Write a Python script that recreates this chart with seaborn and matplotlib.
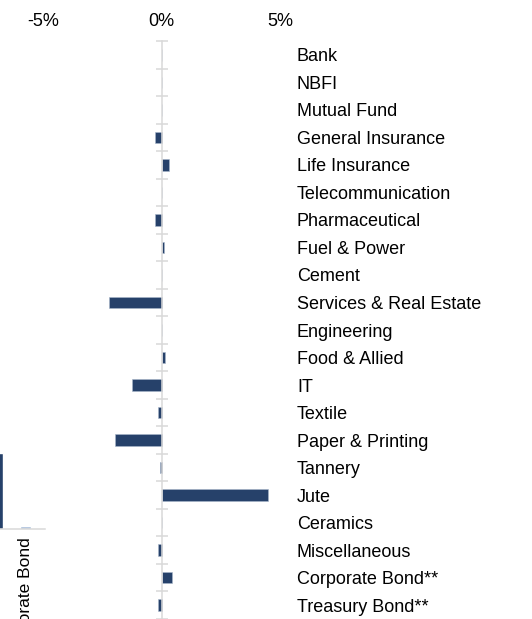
import numpy as np
import pandas as pd
import matplotlib
matplotlib.use("Agg")
import matplotlib.pyplot as plt
import seaborn as sns

# ─── DATA ───────────────────────────────────────────────────────────────────────
SECTORS = ["Bank", "NBFI", "Mutual Fund", "General Insurance", "Life Insurance",
           "Telecommunication", "Pharmaceutical", "Fuel & Power", "Cement",
           "Services & Real Estate", "Engineering", "Food & Allied", "IT",
           "Textile", "Paper & Printing", "Tannery", "Jute", "Ceramics",
           "Miscellaneous", "Corporate Bond**", "Treasury Bond**"]
CHANGE_PCT = [0.0, 0.0, 0.0, -0.30, 0.30,
              0.0, -0.30, 0.08, 0.0,
              -2.20, 0.0, 0.15, -1.25,
              -0.17, -1.95, -0.06, 4.45, 0.02,
              -0.17, 0.42, -0.14]
X_TICKS = [-5, 0, 5]
X_TICK_LABELS = ["-5%", "0%", "5%"]

# fragment of a neighbouring chart cut at the left edge
FRAG_CATS = ["Miscellaneous", "Corporate Bond"]
FRAG_LABELS = ["", "Corporate Bond"]
FRAG_VALUES = [58.8, 1.8]

BAR_COLOR = "#26416A"
EDGE_COLOR = "#A9B7CB"
LIGHT_BAR = "#A9BEDA"
GRID_GRAY = "#D9D9D9"

W, H = 532, 619
sns.set_theme(style="white")
plt.rcParams["font.family"] = ["Liberation Sans", "DejaVu Sans"]

fig = plt.figure(figsize=(W / 100, H / 100), dpi=100)

# ─── MAIN CHART ─────────────────────────────────────────────────────────────────
ax = fig.add_axes([0, 0, 290 / W, 1 - 41 / H])
df = pd.DataFrame({"sector": SECTORS, "change": CHANGE_PCT})
sns.barplot(data=df, x="change", y="sector", orient="h", color=BAR_COLOR,
            width=0.42, edgecolor=EDGE_COLOR, linewidth=0.4, saturation=1,
            ax=ax)

n = len(SECTORS)
ax.set_xlim(-161.7 / 23.8, (290 - 161.7) / 23.8)
ax.set_ylim(-0.5 + (H - 41) / 27.6, -0.5)

ax.xaxis.tick_top()
ax.set_xticks(X_TICKS, labels=X_TICK_LABELS)
ax.tick_params(axis="x", length=0, pad=8, labelsize=13, labelcolor="black")

ax.set_yticks(range(n), labels=SECTORS)
ax.set_yticks(np.arange(n + 1) - 0.5, minor=True)
ax.tick_params(axis="y", which="major", left=False, right=False, length=0,
               labelleft=False, labelright=True, pad=5, labelsize=13,
               labelcolor="black")
ax.tick_params(axis="y", which="minor", left=True, right=False,
               direction="inout", length=8, width=1.1, color=GRID_GRAY)
for lbl in ax.get_yticklabels():
    lbl.set_horizontalalignment("left")

for side in ["top", "right", "bottom"]:
    ax.spines[side].set_visible(False)
ax.spines["left"].set_position(("data", 0))
ax.spines["left"].set_color(GRID_GRAY)
ax.spines["left"].set_linewidth(1.1)
ax.set_xlabel("")
ax.set_ylabel("")
ax.patch.set_alpha(0)

# ─── FRAGMENT OF NEIGHBOUR CHART ────────────────────────────────────────────────
fax = fig.add_axes([-17.25 / W, 1 - 528.5 / H, 62.25 / W, 128.5 / H])
fdf = pd.DataFrame({"cat": FRAG_CATS, "val": FRAG_VALUES})
sns.barplot(data=fdf, x="cat", y="val", hue="cat",
            palette=[BAR_COLOR, LIGHT_BAR], width=0.4, saturation=1,
            legend=False, ax=fax)
fax.set_xlim(-0.5, 1.68)
fax.set_ylim(0, 100)
fax.set_xticks(range(len(FRAG_CATS)), labels=FRAG_LABELS, rotation=90)
fax.tick_params(axis="x", length=0, pad=6, labelsize=12.5, labelcolor="black")
fax.set_yticks([])
for side in ["top", "right", "left"]:
    fax.spines[side].set_visible(False)
fax.spines["bottom"].set_color(GRID_GRAY)
fax.spines["bottom"].set_linewidth(1.1)
fax.set_xlabel("")
fax.set_ylabel("")
fax.patch.set_alpha(0)

fig.savefig("out.png", dpi=100)
